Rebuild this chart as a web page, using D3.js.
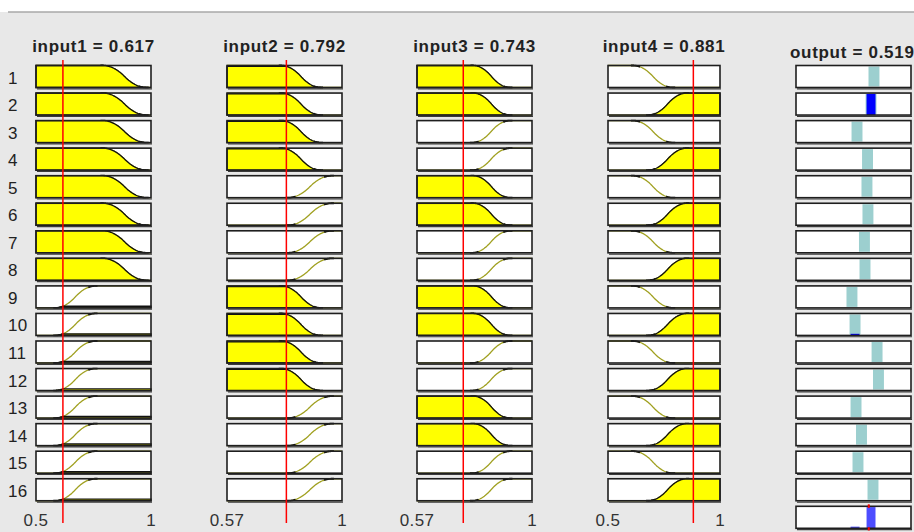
<!DOCTYPE html>
<html>
<head>
<meta charset="utf-8">
<script src="https://cdn.jsdelivr.net/npm/d3@7"></script>
<style>
  body { margin: 0; background: #fff; overflow: hidden; }
  text { font-family: "Liberation Sans", Arial, sans-serif; }
</style>
</head>
<body>
<svg id="chart" width="914" height="532"></svg>
<script>
// fuzzy rule viewer -- 4 inputs, 16 rules

var inputNames = ["input1", "input2", "input3", "input4"];
var inputValues = [0.617, 0.792, 0.743, 0.881];
var inputRanges = [[0.5, 1], [0.57, 1], [0.57, 1], [0.5, 1]];
var tickLabels = [["0.5", "1"], ["0.57", "1"], ["0.57", "1"], ["0.5", "1"]];

// membership functions [a, b] : low = z-shaped, high = s-shaped
var lowMF = [[0.79, 0.98], [0.772, 0.921], [0.779, 0.918], [0.612, 0.79]];
var highMF = [[0.583, 0.759], [0.798, 0.962], [0.776, 0.918], [0.679, 0.853]];

// rule antecedents per input: 0 = low, 1 = high
var ruleIn1 = [0, 0, 0, 0, 0, 0, 0, 0, 1, 1, 1, 1, 1, 1, 1, 1];
var ruleIn2 = [0, 0, 0, 0, 1, 1, 1, 1, 0, 0, 0, 0, 1, 1, 1, 1];
var ruleIn3 = [0, 0, 1, 1, 0, 0, 1, 1, 0, 0, 1, 1, 0, 0, 1, 1];
var ruleIn4 = [0, 1, 0, 1, 0, 1, 0, 1, 0, 1, 0, 1, 0, 1, 0, 1];
var rules = [ruleIn1, ruleIn2, ruleIn3, ruleIn4];

var outputName = "output";
var outputValue = 0.519;
var outputRange = [0, 0.82];
var outputCenters = [0.556, 0.535, 0.435, 0.510, 0.506, 0.513, 0.488, 0.492,
                     0.399, 0.421, 0.578, 0.588, 0.428, 0.467, 0.442, 0.549];
var outputHalfWidth = 0.039;

///////////////////////////////////////////////////////////////////////////////
// layout

var nRules = 16;
var rowTop = 65.5, rowPitch = 27.55, boxH = 22;
var colX = [36, 227, 417, 608], colW = [115, 115, 115, 112];
var outX = 796, outW = 115;

var svg = d3.select("#chart");

svg.append("rect").attr("x", 0).attr("y", 12).attr("width", 914).attr("height", 520)
  .attr("fill", "#e8e8e8");
svg.append("line").attr("x1", 8).attr("x2", 914).attr("y1", 12).attr("y2", 12)
  .attr("stroke", "#a8a8a8").attr("stroke-width", 1.5);

var smf = function (x, p) {
  var a = p[0], b = p[1], m = (a + b) / 2;
  if (x <= a) return 0;
  if (x >= b) return 1;
  if (x <= m) return 2 * Math.pow((x - a) / (b - a), 2);
  return 1 - 2 * Math.pow((x - b) / (b - a), 2);
};
var zmf = function (x, p) { return 1 - smf(x, p); };
var mfFor = function (i, kind) {
  return kind === 1 ? function (x) { return smf(x, highMF[i]); }
                    : function (x) { return zmf(x, lowMF[i]); };
};

var rowY = function (r) { return rowTop + r * rowPitch; };

var drawBox = function (g, x, y, w) {
  g.append("rect").attr("x", x).attr("y", y).attr("width", w).attr("height", boxH)
    .attr("fill", "#fff");
};
var drawBorder = function (g, x, y, w) {
  g.append("rect").attr("x", x).attr("y", y).attr("width", w).attr("height", boxH)
    .attr("fill", "none").attr("stroke", "#1e1e1e").attr("stroke-width", 1.6);
  g.append("line").attr("x1", x + 1).attr("x2", x + w + 1)
    .attr("y1", y + boxH + 1.3).attr("y2", y + boxH + 1.3)
    .attr("stroke", "#3a3a3a").attr("stroke-width", 1.2);
};

// row numbers
svg.selectAll("text.rownum").data(d3.range(nRules)).enter().append("text")
  .attr("class", "rownum")
  .attr("x", 8).attr("y", function (r) { return rowY(r) + boxH / 2 + 7; })
  .attr("font-size", 17).attr("letter-spacing", 0.4).attr("fill", "#222")
  .text(function (r) { return r + 1; });

var firing = d3.range(nRules).map(function () { return 1; });

///////////////////////////////////////////////////////////////////////////////
// input columns

inputNames.forEach(function (name, i) {
  var g = svg.append("g");
  var x = d3.scaleLinear().domain(inputRanges[i]).range([colX[i], colX[i] + colW[i]]);
  var v = inputValues[i];
  var pts = d3.range(0, 201).map(function (k) {
    return inputRanges[i][0] + k / 200 * (inputRanges[i][1] - inputRanges[i][0]);
  });

  g.append("text").attr("x", colX[i] + colW[i] / 2).attr("y", 52)
    .attr("text-anchor", "middle").attr("font-size", 17).attr("font-weight", "bold")
    .attr("letter-spacing", 0.7).attr("fill", "#222").text(name + " = " + v);

  d3.range(nRules).forEach(function (r) {
    var y0 = rowY(r);
    var y = d3.scaleLinear().domain([0, 1]).range([y0 + boxH, y0]);
    var kind = rules[i][r];
    var mf = mfFor(i, kind);
    var mu = mf(v);
    firing[r] = Math.min(firing[r], mu);

    drawBox(g, colX[i], y0, colW[i]);

    var line = d3.line().x(function (d) { return x(d); }).y(function (d) { return y(mf(d)); });
    g.append("path").attr("d", line(pts)).attr("fill", "none")
      .attr("stroke", "#a0a020").attr("stroke-width", 1.3);

    // knees of the curve
    var p = kind === 1 ? highMF[i] : lowMF[i];
    var span = p[1] - p[0];
    [[p[0] - 0.01, p[0] + 0.18 * span], [p[1] - 0.18 * span, p[1] + 0.01]].forEach(function (k) {
      var seg = pts.filter(function (d) { return d >= k[0] && d <= k[1]; });
      g.append("path").attr("d", line(seg)).attr("fill", "none")
        .attr("stroke", "#111").attr("stroke-width", 1.8);
    });

    // area clipped at degree of membership
    if (mu > 0.001) {
      var area = d3.area().x(function (d) { return x(d); })
        .y0(y(0)).y1(function (d) { return y(Math.min(mf(d), mu)); });
      var inside = pts.filter(function (d) { return mf(d) > 0.0005; });
      g.append("path").attr("d", area(inside)).attr("fill", "#ffff00")
        .attr("stroke", "#111").attr("stroke-width", 1.3);
    }

    drawBorder(g, colX[i], y0, colW[i]);
  });

  // range labels
  g.append("text").attr("x", colX[i]).attr("y", 526).attr("text-anchor", "middle")
    .attr("font-size", 17).attr("letter-spacing", 0.4).attr("fill", "#333").text(tickLabels[i][0]);
  g.append("text").attr("x", colX[i] + colW[i]).attr("y", 526).attr("text-anchor", "middle")
    .attr("font-size", 17).attr("fill", "#333").text(tickLabels[i][1]);

  // current input value
  g.append("line").attr("x1", x(v)).attr("x2", x(v)).attr("y1", 60).attr("y2", 523)
    .attr("stroke", "#ff0000").attr("stroke-width", 1.5);
});

///////////////////////////////////////////////////////////////////////////////
// output column

var xo = d3.scaleLinear().domain(outputRange).range([outX, outX + outW]);
var go = svg.append("g");

go.append("text").attr("x", 790).attr("y", 58).attr("font-size", 17)
  .attr("font-weight", "bold").attr("letter-spacing", 0.7).attr("fill", "#222")
  .text(outputName + " = " + outputValue);

outputCenters.forEach(function (c, r) {
  var y0 = rowY(r);
  drawBox(go, outX, y0, outW);
  go.append("rect").attr("x", xo(c - outputHalfWidth)).attr("y", y0 + 1)
    .attr("width", xo(c + outputHalfWidth) - xo(c - outputHalfWidth)).attr("height", boxH - 2)
    .attr("fill", "#9ccfcf");
  if (firing[r] > 0.001)
    go.append("rect").attr("x", xo(c - outputHalfWidth) + 1).attr("y", y0 + boxH - boxH * firing[r])
      .attr("width", xo(c + outputHalfWidth) - xo(c - outputHalfWidth) - 2)
      .attr("height", boxH * firing[r]).attr("fill", "#0000ff");
  drawBorder(go, outX, y0, outW);
});

// aggregated output
var ya = rowY(nRules);
drawBox(go, outX, ya, outW);
go.append("line").attr("x1", xo(outputValue)).attr("x2", xo(outputValue))
  .attr("y1", ya - 2).attr("y2", ya + boxH + 2)
  .attr("stroke", "#ff0000").attr("stroke-width", 2);
outputCenters.forEach(function (c, r) {
  if (firing[r] > 0.001)
    go.append("rect").attr("x", xo(c - outputHalfWidth) + 1).attr("y", ya + boxH - boxH * firing[r])
      .attr("width", xo(c + outputHalfWidth) - xo(c - outputHalfWidth) - 2)
      .attr("height", boxH * firing[r]).attr("fill", "#4d4dff");
});
drawBorder(go, outX, ya, outW);
go.append("line").attr("x1", xo(outputValue)).attr("x2", xo(outputValue))
  .attr("y1", ya - 1).attr("y2", ya + 1.5).attr("stroke", "#ff0000").attr("stroke-width", 2);
go.append("line").attr("x1", xo(outputValue)).attr("x2", xo(outputValue))
  .attr("y1", ya + boxH - 1).attr("y2", ya + boxH + 2).attr("stroke", "#ff0000").attr("stroke-width", 2);
</script>
</body>
</html>
